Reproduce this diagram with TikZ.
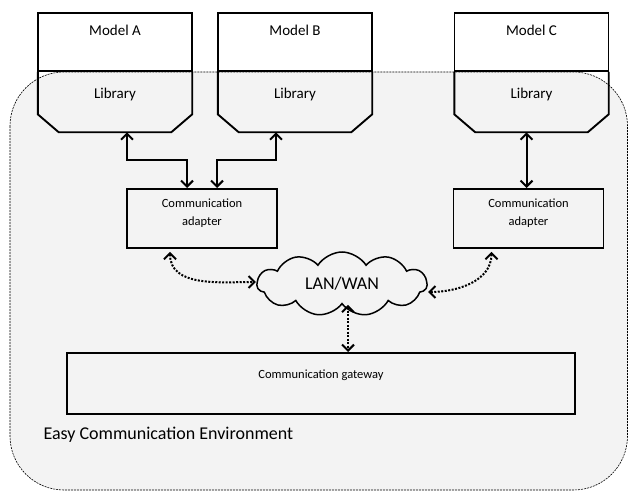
\documentclass[tikz,border=0pt]{standalone}
\usepackage{fontspec}
\setmainfont{Carlito}
\usetikzlibrary{arrows.meta,shapes.symbols}
\definecolor{envgray}{HTML}{F3F3F3}

\begin{document}
\begin{tikzpicture}[x=1pt,y=1pt,
  boxline/.style={line width=1.9pt},
  modelbox/.style={draw, boxline, fill=white, minimum width=154pt, inner ysep=6pt,
    text height=17pt, text depth=29pt, font=\fontsize{15}{17}\selectfont},
  libbox/.style={minimum width=154pt, inner ysep=6pt,
    text height=20pt, text depth=28pt, font=\fontsize{15}{17}\selectfont},
  adapter/.style={draw, boxline, minimum width=150pt, inner ysep=4pt, align=center,
    text height=33pt, text depth=18pt, font=\fontsize{12.5}{18}\selectfont},
  link/.style={{Straight Barb[length=6pt,width=12pt]}-{Straight Barb[length=6pt,width=12pt]}, line width=2pt},
  netlink/.style={link, line width=2pt, dash pattern=on 2pt off 1.5pt}]
  \useasboundingbox (0,0) rectangle (629,-492);

  % environment
  \draw[fill=envgray, line width=0.6pt, dash pattern=on 2pt off 1pt, rounded corners=54pt]
    (10,-72) rectangle (627.5,-490);

  % models with their libraries
  \node[modelbox, anchor=north] (modA) at (115,-12) {Model A};
  \node[modelbox, anchor=north] (modB) at (295,-12) {Model B};
  \node[modelbox, anchor=north] (modC) at (531.5,-12) {Model C};
  \node[libbox, anchor=north] (libA) at (modA.south) {Library};
  \node[libbox, anchor=north] (libB) at (modB.south) {Library};
  \node[libbox, anchor=north] (libC) at (modC.south) {Library};
  \foreach \l in {libA,libB,libC}
    \draw[boxline] (\l.north west) -- ([yshift=18pt]\l.south west) -- ([xshift=21pt]\l.south west)
      -- ([xshift=-21pt]\l.south east) -- ([yshift=18pt]\l.south east) -- (\l.north east);

  % adapters, network and gateway
  \node[adapter, anchor=north] (adL) at (202,-188) {Communication\\adapter};
  \node[adapter, anchor=north] (adR) at (528.5,-188) {Communication\\adapter};
  \node[cloud, draw, line width=1.5pt, fill=envgray, cloud puffs=11, cloud puff arc=115, aspect=2.5,
    minimum width=170pt, minimum height=64pt, font=\fontsize{18}{20}\selectfont] (lan) at (342,-284) {LAN/WAN};
  \node[draw, boxline, minimum width=508pt, inner ysep=4pt, text height=22pt, text depth=31pt,
    font=\fontsize{12.5}{15}\selectfont, anchor=north] (gw) at (321,-352) {Communication gateway};
  \node[anchor=base west, font=\fontsize{18}{20}\selectfont] (env) at (40,-439) {Easy Communication Environment};

  % connections
  \draw[link] ([xshift=12pt]libA.south) -- ++(0,-28) -| ([xshift=-15pt]adL.north);
  \draw[link] ([xshift=-19pt]libB.south) -- ++(0,-28) -| ([xshift=15pt]adL.north);
  \draw[link] ([xshift=-5pt]libC.south) -- ([xshift=-5pt]libC.south |- adR.north);
  \draw[netlink] ([xshift=-32pt,yshift=-3pt]adL.south) to[out=-90,in=180] ([yshift=2pt]lan.west);
  \draw[netlink] ([xshift=-37pt,yshift=-3pt]adR.south) to[out=-90,in=0] ([yshift=-8pt]lan.east);
  \draw[netlink] ([xshift=6pt]lan.south) -- ([xshift=6pt]lan.south |- gw.north);
\end{tikzpicture}
\end{document}
